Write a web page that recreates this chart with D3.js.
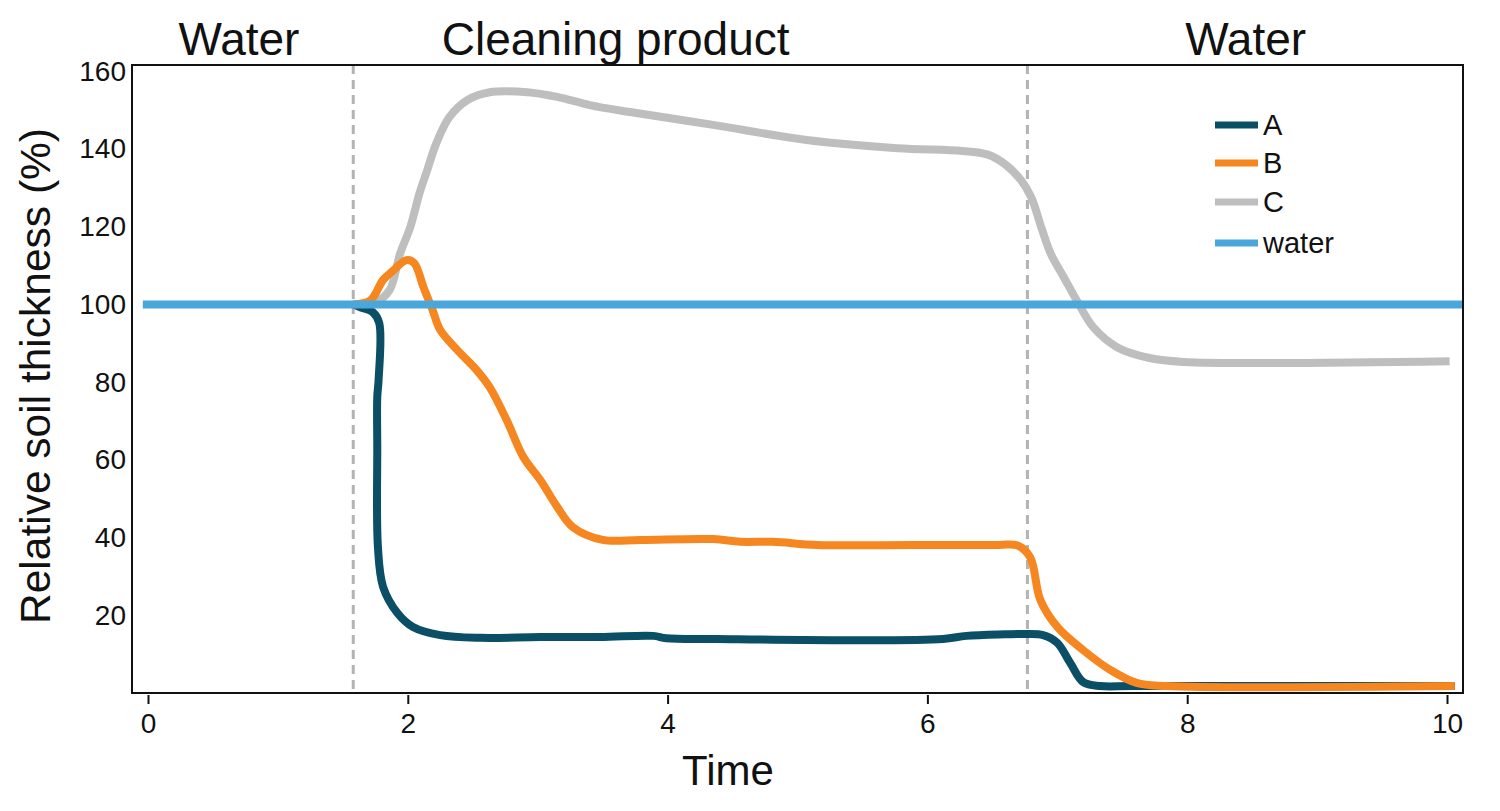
<!DOCTYPE html>
<html>
<head>
<meta charset="UTF-8">
<title>Relative soil thickness</title>
<script src="https://cdnjs.cloudflare.com/ajax/libs/d3/7.8.5/d3.min.js"></script>
<style>
  body { margin: 0; background: #fff; }
  svg { font-family: "Liberation Sans", Arial, sans-serif; }
</style>
</head>
<body>
<svg id="viz" width="1500" height="811"></svg>
<script>
// data
var timeA = [1.58, 1.63, 1.73, 1.78, 1.775, 1.765, 1.765, 1.77, 1.81, 1.92, 2.04, 2.25, 2.56, 3.02, 3.48, 3.89, 3.99, 4.38, 5.27, 6.12, 6.30, 6.60, 6.77, 6.89, 7.00, 7.10, 7.20, 7.33, 7.58, 10.06];
var valA  = [100, 99.3, 98, 95.2, 80.5, 76.2, 63.3, 37.6, 27.3, 20.6, 17, 14.9, 14.2, 14.4, 14.4, 14.7, 14.1, 13.9, 13.6, 13.9, 14.7, 15.1, 15.2, 14.9, 12.9, 7.7, 2.8, 1.8, 1.8, 1.8];

var timeB = [1.58, 1.71, 1.81, 1.89, 1.99, 2.05, 2.12, 2.19, 2.25, 2.38, 2.53, 2.63, 2.76, 2.89, 3.02, 3.15, 3.27, 3.50, 3.79, 4.35, 4.56, 4.81, 5.15, 5.90, 6.55, 6.69, 6.79, 6.87, 7.00, 7.20, 7.41, 7.61, 7.84, 10.06];
var valB  = [100, 101, 106.3, 108.8, 111.4, 110.6, 104.5, 98.6, 93.4, 88.3, 83.1, 78.7, 70.3, 60.7, 54.8, 47.9, 42.7, 39.4, 39.4, 39.6, 38.9, 38.9, 38.1, 38.1, 38.1, 38.0, 35, 23.9, 17, 11, 5.9, 2.6, 1.8, 1.8];

var timeC = [1.58, 1.75, 1.86, 1.94, 2.02, 2.09, 2.15, 2.22, 2.32, 2.46, 2.63, 2.92, 3.15, 3.40, 3.71, 4.35, 5.07, 5.77, 6.27, 6.46, 6.60, 6.72, 6.80, 6.88, 6.95, 7.05, 7.15, 7.28, 7.46, 7.71, 7.97, 10.02];
var valC  = [100, 100.5, 103.7, 113, 120, 128.6, 134.6, 141.5, 148.2, 152.6, 154.6, 154.6, 153.4, 151.3, 149.5, 146.2, 142.3, 140.2, 139.5, 138.6, 136, 132, 127.5, 119.5, 113, 107, 101, 94, 89, 86.2, 85.2, 85.4];

var timeWater = [-0.04, 10.12];
var valWater  = [100, 100];

var seriesNames = ["A", "B", "C", "water"];
var seriesColors = ["#0b4f66", "#f58620", "#bebebe", "#4aa7dc"];

var phaseBreaks = [1.58, 6.77];
var phaseLabels = [{name: "Water", t: 0.7}, {name: "Cleaning product", t: 3.6}, {name: "Water", t: 8.45}];

var xTicks = [0, 2, 4, 6, 8, 10];
var yTicks = [20, 40, 60, 80, 100, 120, 140, 160];

// layout
var svg = d3.select("#viz");
var plotLeft = 132, plotRight = 1463, plotTop = 65, plotBottom = 693;

var x = d3.scaleLinear().domain([0, 10]).range([148, 1447]);
var y = d3.scaleLinear().domain([0, 160]).range([plotBottom, plotBottom - 160 * 3.886]);

function zip(ts, vs) { return ts.map(function(t, i) { return [t, vs[i]]; }); }
var allSeries = [zip(timeA, valA), zip(timeB, valB), zip(timeC, valC), zip(timeWater, valWater)];

var line = d3.line()
  .x(function(d) { return x(d[0]); })
  .y(function(d) { return y(d[1]); })
  .curve(d3.curveCatmullRom.alpha(0.5));

// phase separators
svg.selectAll(".phase")
  .data(phaseBreaks)
  .enter().append("line")
    .attr("x1", function(d) { return x(d); })
    .attr("x2", function(d) { return x(d); })
    .attr("y1", plotTop)
    .attr("y2", plotBottom)
    .attr("stroke", "#b3b3b3")
    .attr("stroke-width", 3)
    .attr("stroke-dasharray", "9,6");

// lines, water on top like the reference
var drawOrder = [2, 0, 1, 3];
svg.selectAll(".serie")
  .data(drawOrder)
  .enter().append("path")
    .attr("class", "serie")
    .attr("fill", "none")
    .attr("stroke", function(i) { return seriesColors[i]; })
    .attr("stroke-width", 8)
    .attr("stroke-linejoin", "round")
    .attr("d", function(i) { return line(allSeries[i]); });

// frame
svg.append("rect")
  .attr("x", plotLeft).attr("y", plotTop)
  .attr("width", plotRight - plotLeft).attr("height", plotBottom - plotTop)
  .attr("fill", "none")
  .attr("stroke", "#111")
  .attr("stroke-width", 2);

// x axis
var xAxis = svg.append("g")
  .attr("transform", "translate(0," + (plotBottom + 2) + ")")
  .call(d3.axisBottom(x).tickValues(xTicks).tickSize(9).tickPadding(9));
xAxis.select(".domain").remove();
xAxis.selectAll("line").attr("stroke", "#111").attr("stroke-width", 2);
xAxis.selectAll("text").attr("font-size", 28).attr("fill", "#111").attr("font-family", "Liberation Sans, Arial, sans-serif");

// y axis
var yAxis = svg.append("g")
  .attr("transform", "translate(" + plotLeft + ",0)")
  .call(d3.axisLeft(y).tickValues(yTicks).tickSize(0).tickPadding(6));
yAxis.select(".domain").remove();
yAxis.selectAll("text").attr("font-size", 28).attr("fill", "#111").attr("font-family", "Liberation Sans, Arial, sans-serif");

// axis titles
svg.append("text")
  .attr("x", 728).attr("y", 785)
  .attr("text-anchor", "middle")
  .attr("font-size", 42)
  .attr("fill", "#111")
  .text("Time");

svg.append("text")
  .attr("transform", "translate(50," + 376 + ") rotate(-90)")
  .attr("text-anchor", "middle")
  .attr("font-size", 42.5)
  .attr("fill", "#111")
  .text("Relative soil thickness (%)");

// phase labels
svg.selectAll(".phaseLabel")
  .data(phaseLabels)
  .enter().append("text")
    .attr("x", function(d) { return x(d.t); })
    .attr("y", 55)
    .attr("text-anchor", "middle")
    .attr("font-size", 46)
    .attr("fill", "#111")
    .text(function(d) { return d.name; });

// legend
var legendY = [125, 163, 202, 243];
var legend = svg.selectAll(".legend")
  .data(seriesNames)
  .enter().append("g")
    .attr("transform", function(d, i) { return "translate(1215," + legendY[i] + ")"; });
legend.append("line")
  .attr("x1", 0).attr("x2", 43)
  .attr("stroke", function(d, i) { return seriesColors[i]; })
  .attr("stroke-width", 7);
legend.append("text")
  .attr("x", 48).attr("dy", "0.36em")
  .attr("font-size", 29)
  .attr("fill", "#111")
  .text(function(d) { return d; });
</script>
</body>
</html>
